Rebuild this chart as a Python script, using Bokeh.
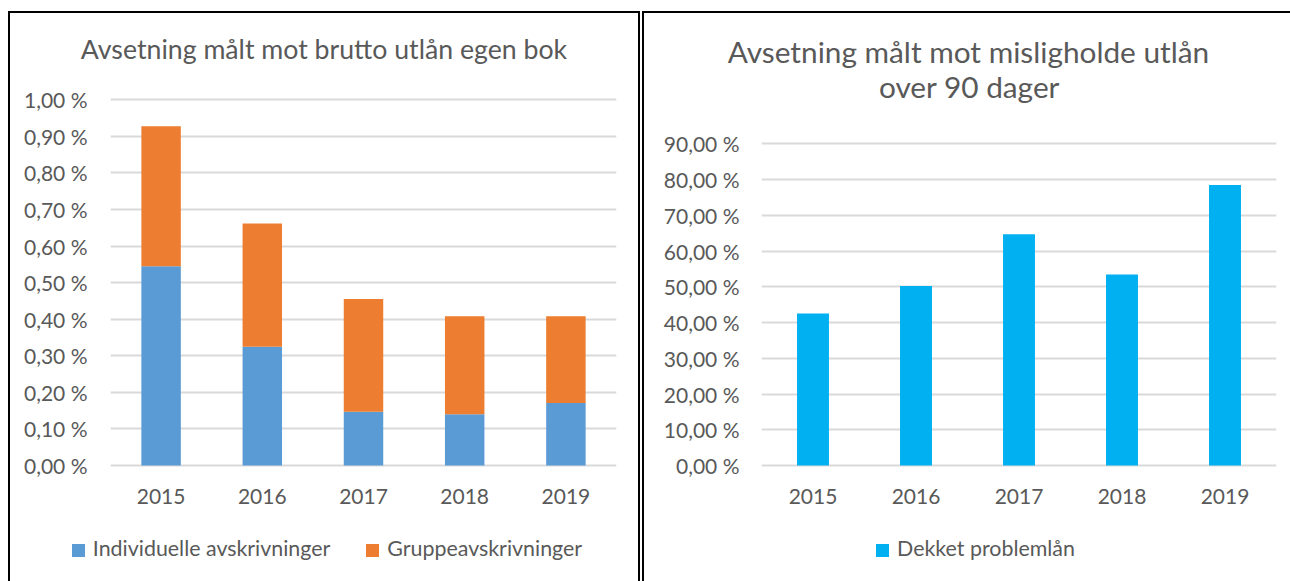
from bokeh.plotting import figure
from bokeh.models import (Range1d, Label, Spacer, FixedTicker, Div,
                          CustomJSTickFormatter, ColumnDataSource)
from bokeh.layouts import row, column
from bokeh.embed import file_html
from bokeh.resources import INLINE

# ---------------- data ----------------
years = ["2015", "2016", "2017", "2018", "2019"]
individuelle = [0.545, 0.325, 0.147, 0.140, 0.171]   # % of gross loans
gruppe = [0.383, 0.337, 0.308, 0.268, 0.237]         # % of gross loans
dekket = [42.5, 50.2, 64.7, 53.4, 78.5]              # % of defaulted loans > 90 days

left_tick_values = [0.0, 0.1, 0.2, 0.3, 0.4, 0.5, 0.6, 0.7, 0.8, 0.9, 1.0]
left_tick_labels = ["0,00 %", "0,10 %", "0,20 %", "0,30 %", "0,40 %", "0,50 %",
                    "0,60 %", "0,70 %", "0,80 %", "0,90 %", "1,00 %"]
right_tick_values = [0, 10, 20, 30, 40, 50, 60, 70, 80, 90]
right_tick_labels = ["0,00 %", "10,00 %", "20,00 %", "30,00 %", "40,00 %",
                     "50,00 %", "60,00 %", "70,00 %", "80,00 %", "90,00 %"]

left_title = "Avsetning målt mot brutto utlån egen bok"
right_title = ["Avsetning målt mot misligholde utlån", "over 90 dager"]
left_series = ["Individuelle avskrivninger", "Gruppeavskrivninger"]
right_series = ["Dekket problemlån"]

# ---------------- style ----------------
FONT = "Lato"
TXT = "#595959"
GRID = "#D9D9D9"
BLUE = "#5B9BD5"
ORANGE = "#ED7D31"
CYAN = "#00B0F0"
TICK_FS = "21px"
LEG_FS = 21.4
LEFT_TITLE_FS = 26.7
RIGHT_TITLE_FS = 29.8

TITLE_H = 50      # height of the title strip
CHART_H = 457     # height of the chart canvas
LEGEND_H = 61     # height of the legend strip
ZERO_PX = 402     # canvas y of the zero line (frame bottom is 2px lower)
BOTTOM_BORDER = 53


def yrange(top_value, top_px):
    per_px = top_value / (ZERO_PX - top_px)
    return Range1d(-2 * per_px, top_value + top_px * per_px)


def style_axes(p, tick_values, tick_labels, y_standoff):
    p.xgrid.grid_line_color = None
    p.ygrid.grid_line_color = GRID
    p.ygrid.grid_line_width = 2
    p.yaxis.ticker = FixedTicker(ticks=tick_values)
    p.yaxis.formatter = CustomJSTickFormatter(args=dict(labels=tick_labels),
                                              code="return labels[index];")
    for ax in (p.xaxis[0], p.yaxis[0]):
        ax.axis_line_color = None
        ax.major_tick_line_color = None
        ax.minor_tick_line_color = None
        ax.major_tick_out = 0
        ax.minor_tick_out = 0
        ax.major_label_text_font = FONT
        ax.major_label_text_font_size = TICK_FS
        ax.major_label_text_color = TXT
    p.xaxis.major_label_standoff = 21
    p.yaxis.major_label_standoff = y_standoff
    p.border_fill_alpha = 0
    p.background_fill_alpha = 0


def title_div(text, width, size, pad_top, pad_left):
    html = ('<div style="width:%dpx;height:%dpx;box-sizing:border-box;padding-top:%dpx;'
            'padding-left:%dpx;text-align:center;font-family:Lato;font-size:%spx;'
            'line-height:1.2;color:%s;white-space:nowrap;overflow:visible;">%s</div>'
            % (width, TITLE_H, pad_top, pad_left, size, TXT, text))
    return Div(text=html, width=width, height=TITLE_H, margin=0)


def legend_div(labels, colors, width, pad_left):
    items = []
    for lab, col in zip(labels, colors):
        items.append('<span style="display:inline-flex;align-items:center;">'
                     '<span style="display:inline-block;width:13px;height:13px;'
                     'background:%s;margin-right:8px;"></span>'
                     '<span style="position:relative;top:-2px;">%s</span></span>' % (col, lab))
    html = ('<div style="width:%dpx;height:%dpx;box-sizing:border-box;padding-top:24px;'
            'padding-left:%dpx;display:flex;justify-content:center;align-items:flex-start;'
            'gap:36px;font-family:Lato;font-size:%spx;line-height:13px;color:%s;'
            'white-space:nowrap;">%s</div>'
            % (width, LEGEND_H, pad_left, LEG_FS, TXT, "".join(items)))
    return Div(text=html, width=width, height=LEGEND_H, margin=0)


def panel(children, right_border):
    st = {"border-left": "2px solid black", "border-top": "2px solid black",
          "box-sizing": "content-box"}
    if right_border:
        st["border-right"] = "2px solid black"
    return column(*children, spacing=0, styles=st)


# ---------------- left chart ----------------
totals = [a + b for a, b in zip(individuelle, gruppe)]
src_l = ColumnDataSource(dict(year=years, ind=individuelle, tot=totals))

p1 = figure(x_range=years, y_range=yrange(1.0, 36.3), width=628, height=CHART_H,
            title=None, output_backend="svg", toolbar_location=None,
            min_border_left=100, min_border_right=22, min_border_top=0,
            min_border_bottom=BOTTOM_BORDER, outline_line_color=None)
p1.vbar(x="year", bottom=0, top="ind", width=0.39, source=src_l,
        fill_color=BLUE, line_color=None)
p1.vbar(x="year", bottom="ind", top="tot", width=0.39, source=src_l,
        fill_color=ORANGE, line_color=None)
style_axes(p1, left_tick_values, left_tick_labels, 23)

left_panel = panel([title_div(left_title, 628, LEFT_TITLE_FS, 20, 0), p1,
                    legend_div(left_series, [BLUE, ORANGE], 628, 6)], True)

# ---------------- right chart ----------------
RIGHT_W = 646
src_r = ColumnDataSource(dict(year=years, val=dekket))
p2 = figure(x_range=years, y_range=yrange(90, 80.3), width=RIGHT_W, height=CHART_H,
            title=None, output_backend="svg", toolbar_location=None,
            min_border_left=117, min_border_right=RIGHT_W - 632, min_border_top=0,
            min_border_bottom=BOTTOM_BORDER, outline_line_color=None)
p2.vbar(x="year", bottom=0, top="val", width=0.31, source=src_r,
        fill_color=CYAN, line_color=None)
style_axes(p2, right_tick_values, right_tick_labels, 22)

# second title line sits inside the plot frame (frame is 515px wide for 5 categories)
per_px_r = 90 / (ZERO_PX - 80.3)
p2.add_layout(Label(x=(969 - 761) / 103.0, y=(ZERO_PX - 23) * per_px_r,
                    text=right_title[1], text_align="center", text_baseline="alphabetic",
                    text_font=FONT, text_font_size="%spx" % RIGHT_TITLE_FS, text_color=TXT))

right_panel = panel([title_div(right_title[0], RIGHT_W, RIGHT_TITLE_FS, 21, 3), p2,
                     legend_div(right_series, [CYAN], RIGHT_W, 17)], False)

layout = column(Spacer(height=11, width=10),
                row(Spacer(width=6, height=10), left_panel, right_panel, spacing=2))
open("out.html", "w").write(file_html(layout, INLINE))
